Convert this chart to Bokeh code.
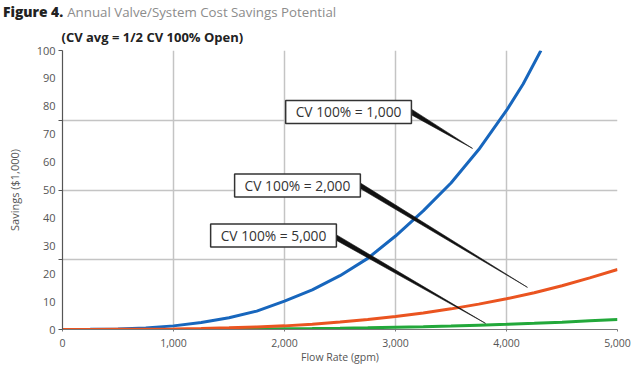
from bokeh.plotting import figure
from bokeh.models import FixedTicker, Label, Range1d, Div, Title
from bokeh.layouts import column
from bokeh.embed import file_html
from bokeh.resources import INLINE

# ---- data ----
flow = [0, 250, 500, 750, 1000, 1250, 1500, 1750, 2000, 2250, 2500, 2750,
        3000, 3250, 3500, 3750, 4000, 4250, 4500, 4750, 5000]
blue_flow = [0, 250, 500, 750, 1000, 1250, 1500, 1750, 2000, 2250, 2500, 2750,
             3000, 3250, 3500, 3750, 4000, 4150, 4310]
cv1000 = [0, 0.05, 0.2, 0.55, 1.3, 2.5, 4.2, 6.6, 10.2, 14.2, 19.3, 25.5,
          33.5, 42.5, 52.5, 64.5, 78.5, 88, 100]
cv2000 = [0, 0, 0.05, 0.1, 0.2, 0.35, 0.6, 0.9, 1.3, 1.9, 2.7, 3.6,
          4.7, 5.9, 7.4, 9.1, 11.0, 13.2, 15.7, 18.5, 21.5]
cv5000 = [0, 0, 0, 0.02, 0.04, 0.06, 0.1, 0.16, 0.25, 0.34, 0.46, 0.61,
          0.8, 1.0, 1.25, 1.55, 1.85, 2.2, 2.6, 3.1, 3.6]

x_ticks = [0, 1000, 2000, 3000, 4000, 5000]
x_tick_labels = ["0", "1,000", "2,000", "3,000", "4,000", "5,000"]
y_label_ticks = [0, 10, 20, 30, 40, 50, 60, 70, 80, 90, 100]
y_grid_ticks = [0, 25, 50, 75, 100]

title_bold = "Figure 4."
title_rest = "Annual Valve/System Cost Savings Potential"
subtitle = "(CV avg = 1/2 CV 100% Open)"
callout_texts = ["CV 100% = 1,000", "CV 100% = 2,000", "CV 100% = 5,000"]
# layout of callouts (box centre, leader start, leader end) in data units
callout_box = [(2577, 78.0), (2117, 51.6), (1901, 33.7)]
leader_start = [(3150, 77.8), (2680, 51.6), (2465, 33.0)]
leader_end = [(3694, 64.9), (4189, 15.1), (3811, 2.2)]

FONT = "Open Sans"
TICK_COL = "#555555"

header = Div(
    text=(
        "<div style=\"font-family:'Open Sans';white-space:nowrap;"
        'line-height:1;margin:0;padding:5px 0 0 3px\">'
        '<span style="font-size:13.8px;font-weight:800;color:#222">'
        f'{title_bold}</span>'
        '<span style="font-size:13.3px;color:#8c8c8c;margin-left:4px">'
        f'{title_rest}</span></div>'
    ),
    width=640, height=20, margin=(0, 0, 0, 0),
)

p = figure(width=640, height=346, output_backend="svg", toolbar_location=None,
           x_range=Range1d(0, 5000), y_range=Range1d(0, 100),
           min_border_left=62, min_border_right=23, min_border_top=30,
           min_border_bottom=37, outline_line_color=None, margin=(0, 0, 0, 0))
p.background_fill_color = "white"
p.title = Title(text=subtitle, align="left", offset=-1, standoff=10,
                text_font=FONT, text_font_size="13px", text_font_style="bold",
                text_color="#222222")

# grids
p.xgrid.ticker = FixedTicker(ticks=x_ticks)
p.ygrid.ticker = FixedTicker(ticks=y_grid_ticks)
for g in (p.xgrid, p.ygrid):
    g.grid_line_color = "#c4c4c4"
    g.grid_line_width = 1.5

# x axis
xa = p.xaxis[0]
xa.ticker = FixedTicker(ticks=x_ticks)
xa.major_label_overrides = {t: l for t, l in zip(x_ticks, x_tick_labels)}
xa.axis_label = "Flow Rate (gpm)"
xa.axis_line_color = "#777777"
xa.major_tick_line_color = "#777777"
xa.major_tick_out = 2
xa.major_tick_in = 0
xa.minor_tick_line_color = None
xa.major_label_standoff = 7
xa.axis_label_standoff = 0
xa.major_label_text_font = FONT
xa.major_label_text_font_size = "10.5px"
xa.major_label_text_color = TICK_COL
xa.axis_label_text_font = FONT
xa.axis_label_text_font_size = "10.5px"
xa.axis_label_text_font_style = "normal"
xa.axis_label_text_color = TICK_COL

# y axis: labels every 10, tick marks every 25
ya = p.yaxis[0]
ya.ticker = FixedTicker(ticks=y_label_ticks, minor_ticks=y_grid_ticks)
ya.axis_label = "Savings ($1,000)"
ya.axis_line_color = "#555555"
ya.axis_line_width = 1.2
ya.major_tick_line_color = None
ya.major_tick_out = 4
ya.major_tick_in = 0
ya.minor_tick_line_color = "#555555"
ya.minor_tick_out = 4
ya.minor_tick_in = 0
ya.major_label_standoff = 3
ya.axis_label_standoff = 12
ya.major_label_text_font = FONT
ya.major_label_text_font_size = "11px"
ya.major_label_text_color = TICK_COL
ya.axis_label_text_font = FONT
ya.axis_label_text_font_size = "11px"
ya.axis_label_text_font_style = "normal"
ya.axis_label_text_color = TICK_COL

# curves
p.line(blue_flow, cv1000, line_color="#1766bd", line_width=3)
p.line(flow, cv5000, line_color="#22a83a", line_width=3)
p.line(flow, cv2000, line_color="#ea5420", line_width=3)

# tapered leader lines
xs, ys = [], []
for (x0, y0), (x1, y1) in zip(leader_start, leader_end):
    xs.append([x0, x0, x1])
    ys.append([y0 + 1.0, y0 - 1.0, y1])
p.patches(xs, ys, fill_color="#111111", line_color="#111111", line_width=0.6)

# callout boxes
for txt, (cx, cy) in zip(callout_texts, callout_box):
    p.add_layout(Label(x=cx, y=cy, text=txt, text_align="center",
                       text_baseline="middle", text_font=FONT,
                       text_font_size="13.8px", text_color="#333333",
                       background_fill_color="white",
                       border_line_color="#333333", border_line_width=1.5,
                       padding=dict(left=10, right=10, top=2, bottom=2)))

open("out.html", "w").write(file_html(column(header, p, spacing=0), INLINE))
